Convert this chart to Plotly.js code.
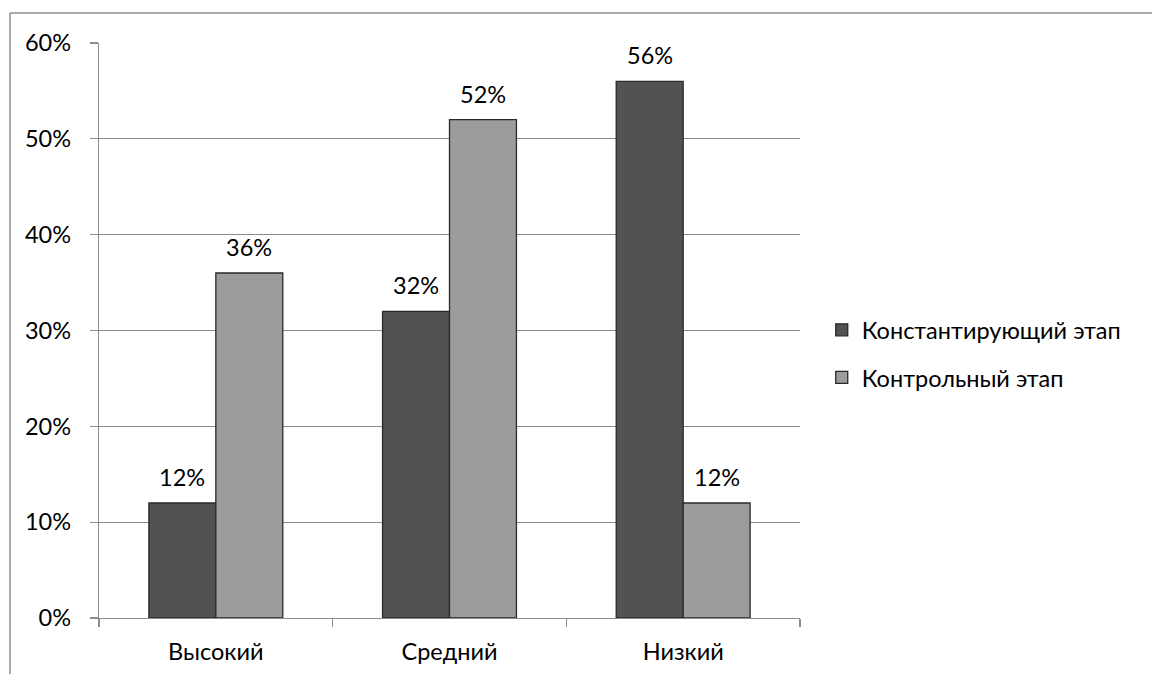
<!DOCTYPE html>
<html>
<head>
<meta charset="utf-8">
<script src="https://cdn.plot.ly/plotly-3.0.1.min.js"></script>
<style>html,body{margin:0;padding:0;background:#fff;}#chart{width:1152px;height:674px;}</style>
</head>
<body>
<div id="chart"></div>
<script>
var categories = ["Высокий", "Средний", "Низкий"];
var seriesNames = ["Константирующий этап", "Контрольный этап"];
var constatingValues = [0.12, 0.32, 0.56];
var controlValues = [0.36, 0.52, 0.12];
var yTickValues = [0, 0.1, 0.2, 0.3, 0.4, 0.5, 0.6];
var yTickLabels = ["0%", "10%", "20%", "30%", "40%", "50%", "60%"];

var FONT = "Lato, 'Open Sans', sans-serif";
var FS = 23.5;
var bargap = 0.427;
var nSeries = 2;
var barW = (1 - bargap) / nSeries;

function pct(v) { return Math.round(v * 100) + "%"; }

var series = [constatingValues, controlValues];
var colors = ["#525252", "#9c9c9c"];
var traces = series.map(function (vals, i) {
  return {
    type: "bar",
    name: seriesNames[i],
    x: categories,
    y: vals,
    legendgroup: "g" + i,
    marker: { color: colors[i], line: { color: "#2a2a2a", width: 1.3 } },
    hoverinfo: "none"
  };
});

var annotations = [];
series.forEach(function (vals, i) {
  var off = (i - (nSeries - 1) / 2) * barW;
  vals.forEach(function (v, j) {
    annotations.push({
      x: j + off, y: v, xref: "x", yref: "y",
      text: pct(v), showarrow: false,
      yanchor: "bottom", yshift: 10,
      font: { family: FONT, size: FS, color: "#000" }
    });
  });
});

var layout = {
  width: 1152, height: 674,
  margin: { l: 99, r: 352, t: 43, b: 56 },
  paper_bgcolor: "#fff", plot_bgcolor: "#fff",
  barmode: "group", bargap: bargap, bargroupgap: 0,
  font: { family: FONT, size: FS, color: "#000" },
  xaxis: {
    type: "category",
    tickson: "boundaries",
    ticks: "outside", ticklen: 8, tickcolor: "#8c8c8c", tickwidth: 1.3,
    showline: true, linecolor: "#8c8c8c", linewidth: 1.3,
    showgrid: false, zeroline: false,
    tickfont: { family: FONT, size: FS, color: "#000" },
    ticklabelstandoff: 12,
    fixedrange: true
  },
  yaxis: {
    range: [0, 0.6],
    tickvals: yTickValues, ticktext: yTickLabels,
    ticks: "outside", ticklen: 8, tickcolor: "#8c8c8c", tickwidth: 1.3,
    showline: true, linecolor: "#8c8c8c", linewidth: 1.3,
    showgrid: true, gridcolor: "#8c8c8c", gridwidth: 1.3,
    zeroline: false,
    tickfont: { family: FONT, size: FS, color: "#000" },
    ticklabelstandoff: 14,
    fixedrange: true
  },
  showlegend: true,
  legend: {
    x: 1.031, xanchor: "left", y: 0.459, yanchor: "middle",
    traceorder: "grouped", tracegroupgap: 14,
    font: { family: FONT, size: FS, color: "#000" },
    bgcolor: "rgba(0,0,0,0)"
  },
  annotations: annotations,
  shapes: [
    { type: "line", xref: "paper", yref: "paper", x0: (10 - 99) / 701, x1: (1152 - 99) / 701, y0: (618 - 13) / 575, y1: (618 - 13) / 575, line: { color: "#8c8c8c", width: 1.5 } },
    { type: "line", xref: "paper", yref: "paper", x0: (10 - 99) / 701, x1: (10 - 99) / 701, y0: (618 - 13) / 575, y1: (618 - 674) / 575, line: { color: "#8c8c8c", width: 1.5 } }
  ]
};

Plotly.newPlot("chart", traces, layout, { displayModeBar: false, staticPlot: true });
</script>
</body>
</html>
